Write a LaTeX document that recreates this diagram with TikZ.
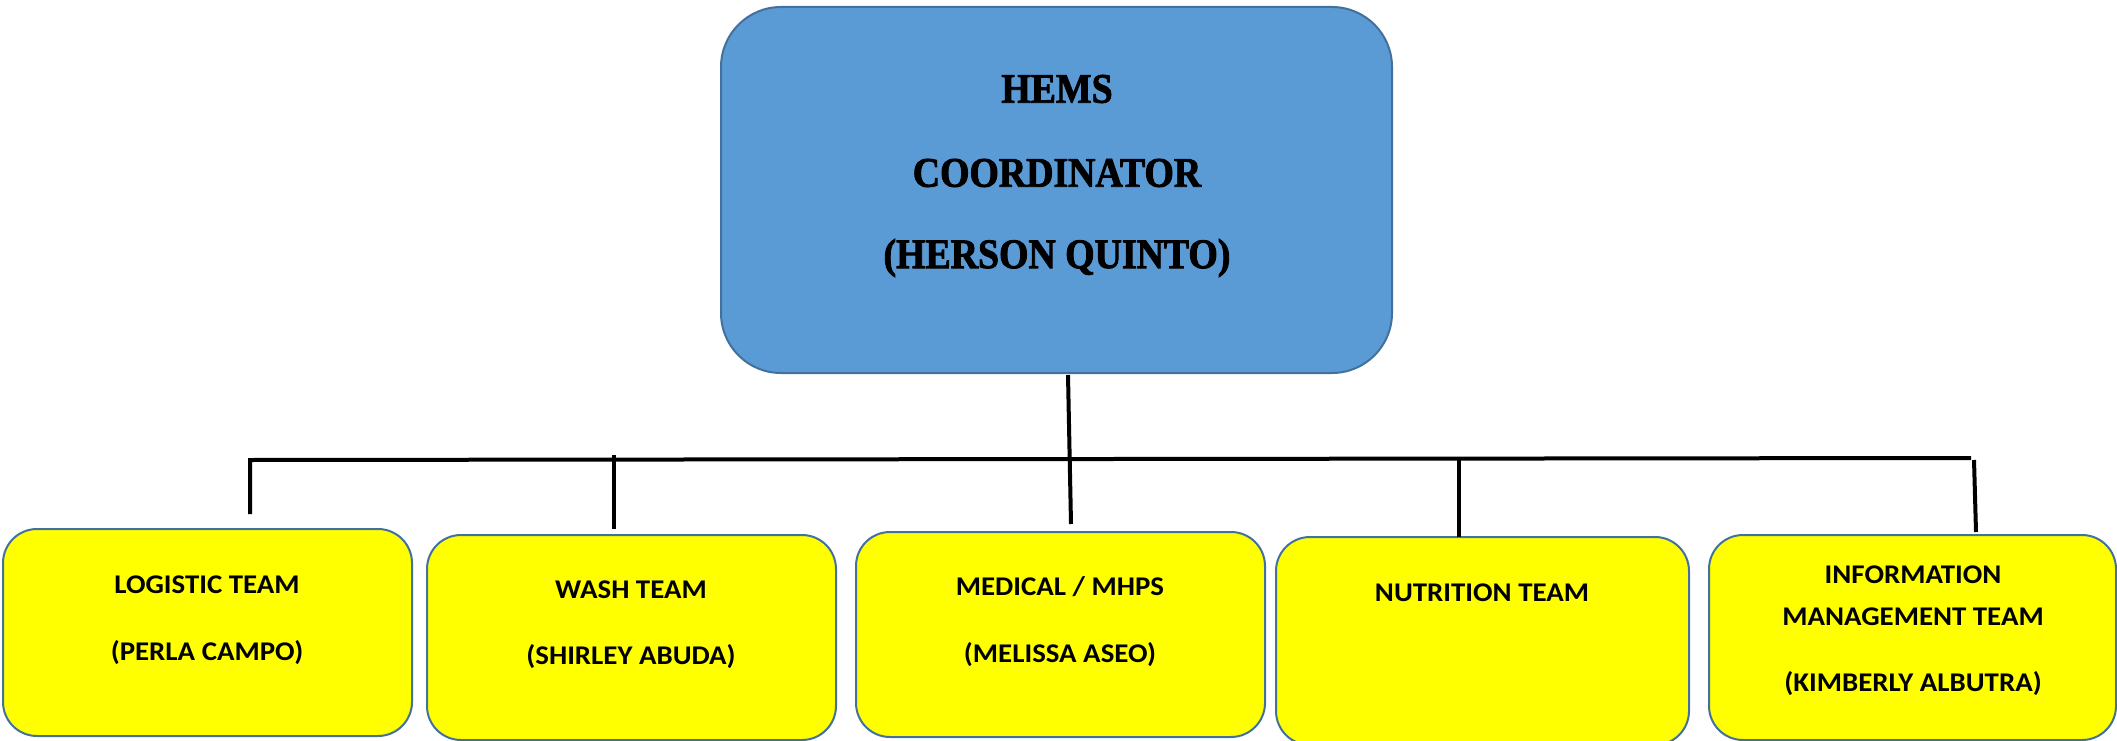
\documentclass[tikz,border=0pt]{standalone}
\usepackage{fontspec}
\setmainfont{Carlito}
\newfontfamily\teamfont[FakeStretch=1.07]{Carlito}
\newfontfamily\headfont[FakeStretch=0.9,FakeBold=2]{Liberation Serif}
\definecolor{topblue}{HTML}{5B9BD5}
\definecolor{edgeblue}{HTML}{41719C}
\definecolor{teamyellow}{HTML}{FFFF00}
\begin{document}
\begin{tikzpicture}[x=1pt,y=-1pt,
  topbox/.style={draw=edgeblue,line width=2pt,fill=topblue,rounded corners=60pt,minimum width=671pt,minimum height=366pt,inner sep=0pt},
  teambox/.style={draw=edgeblue,line width=2pt,fill=teamyellow,rounded corners=34pt,minimum height=205pt,inner sep=0pt},
  headtxt/.style={font=\headfont\bfseries\fontsize{42}{46}\selectfont,inner sep=0pt},
  teamtxt/.style={font=\teamfont\bfseries\fontsize{27}{30}\selectfont,inner sep=0pt},
  conn/.style={draw=black,line width=4pt}]
\useasboundingbox (0,0) rectangle (2117,741);
% top box
\node[topbox] (coord) at (1056.5,190) {};
\node[headtxt] (t1) at (1057,89) {HEMS};
\node[headtxt] (t2) at (1057,173) {COORDINATOR};
\node[headtxt] (t3) at (1057,258) {(HERSON QUINTO)};
% team boxes
\node[teambox,minimum width=409pt,minimum height=207pt] (log) at (207.5,632.5) {};
\node[teambox,minimum width=409pt] (wash) at (631.5,637.5) {};
\node[teambox,minimum width=409pt] (med) at (1060.5,634.5) {};
\node[teambox,minimum width=413pt,minimum height=208pt] (nut) at (1482.5,641) {};
\node[teambox,minimum width=407pt] (info) at (1912.5,637.5) {};
% team texts
\node[teamtxt] (l1) at (207,585) {LOGISTIC TEAM};
\node[teamtxt] (l2) at (207,653) {(PERLA CAMPO)};
\node[teamtxt] (w1) at (631,590) {WASH TEAM};
\node[teamtxt] (w2) at (631,657) {(SHIRLEY ABUDA)};
\node[teamtxt] (m1) at (1060,587) {MEDICAL / MHPS};
\node[teamtxt] (m2) at (1060,655) {(MELISSA ASEO)};
\node[teamtxt] (n1) at (1482,593) {NUTRITION TEAM};
\node[teamtxt] (i1) at (1913,575) {INFORMATION};
\node[teamtxt] (i2) at (1913,617) {MANAGEMENT TEAM};
\node[teamtxt] (i3) at (1913,684) {(KIMBERLY ALBUTRA)};
% connectors
\coordinate (stemtop) at (1068,375);
\coordinate (stembot) at (1071,524);
\coordinate (busL) at (250,460);
\coordinate (busR) at (1971,458);
\coordinate (dLog) at (250,514);
\coordinate (dWashT) at (614,455);
\coordinate (dWash) at (614,529);
\coordinate (dNutT) at (1459,459);
\coordinate (dNut) at (1459,537);
\coordinate (dInfoT) at (1974,460);
\coordinate (dInfo) at (1976,532);
\draw[conn] (stemtop) -- (stembot);
\draw[conn] (dLog) -- (busL) -- (busR);
\draw[conn] (dWashT) -- (dWash);
\draw[conn] (dNutT) -- (dNut);
\draw[conn] (dInfoT) -- (dInfo);
\end{tikzpicture}
\end{document}
